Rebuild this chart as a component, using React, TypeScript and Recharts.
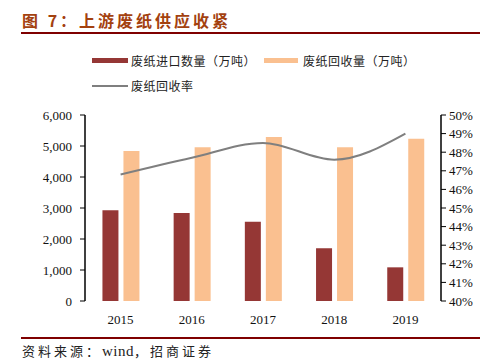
import React from "react";
import { ComposedChart, Bar, Line, XAxis, YAxis, Legend } from "recharts";

const years = ["2015", "2016", "2017", "2018", "2019"];
const importVol = [2926, 2839, 2559, 1700, 1086];
const recycleVol = [4839, 4957, 5290, 4957, 5236];
const recycleRate = [0.468, 0.477, 0.485, 0.476, 0.49];
const leftTicks = [0, 1000, 2000, 3000, 4000, 5000, 6000];
const rightTicks = [0.4, 0.41, 0.42, 0.43, 0.44, 0.45, 0.46, 0.47, 0.48, 0.49, 0.5];
const boundaryTicks = [0, 1, 2, 3, 4, 5];

const data = years.map((y, i) => ({
  year: y,
  imp: importVol[i],
  rec: recycleVol[i],
  rate: recycleRate[i],
}));

const SERIF = "'Liberation Serif', 'Times New Roman', serif";
const CJK = "'Noto Sans CJK SC', sans-serif";

const renderLegend = () => (
  <div style={{ position: "relative", width: 498, height: 50, fontFamily: CJK, fontSize: 12, color: "#222", letterSpacing: 0.5 }}>
    <div style={{ position: "absolute", left: 92, top: 6, width: 36, height: 5, background: "#953735" }} />
    <div style={{ position: "absolute", left: 131, top: 0, lineHeight: "17px" }}>废纸进口数量（万吨）</div>
    <div style={{ position: "absolute", left: 264, top: 6, width: 34, height: 5, background: "#FAC090" }} />
    <div style={{ position: "absolute", left: 303, top: 0, lineHeight: "17px" }}>废纸回收量（万吨）</div>
    <div style={{ position: "absolute", left: 92, top: 33, width: 36, height: 2, background: "#7F7F7F" }} />
    <div style={{ position: "absolute", left: 131, top: 25, lineHeight: "17px" }}>废纸回收率</div>
  </div>
);

export default function App() {
  return (
    <div style={{ position: "fixed", left: 0, top: 0, width: 498, height: 361, background: "#fff", overflow: "hidden" }}>
      <div style={{ position: "absolute", left: 22, top: 10, fontFamily: CJK, fontWeight: 700, fontSize: 16, color: "#A3410F", lineHeight: "20px", letterSpacing: 3, whiteSpace: "pre" }}>
        图 7：上游废纸供应收紧
      </div>
      <div style={{ position: "absolute", left: 21, top: 32, width: 459, height: 2, background: "#7F0000" }} />
      <div style={{ position: "absolute", left: 21, top: 337, width: 459, height: 2, background: "#7F0000" }} />
      <div style={{ position: "absolute", left: 22, top: 342, fontFamily: CJK, fontSize: 13, color: "#222", lineHeight: "17px", letterSpacing: 3, whiteSpace: "pre" }}>
        资料来源：<span style={{ fontFamily: SERIF, fontSize: 15, letterSpacing: 0.5 }}>wind</span>，招商证券
      </div>
      <ComposedChart
        width={498}
        height={361}
        data={data}
        margin={{ top: 65, right: 0, bottom: 30, left: 0 }}
        barCategoryGap="24.5%"
        barGap={5}
      >
        <Legend content={renderLegend} verticalAlign="top" wrapperStyle={{ top: 52, left: 0, height: 50 }} />
        <XAxis
          xAxisId="grid"
          type="number"
          domain={[0, 5]}
          ticks={boundaryTicks}
          height={0}
          tickFormatter={() => ""}
          tickSize={5}
          stroke="#000"
          tickLine={{ stroke: "#000" }}
          axisLine={{ stroke: "#000", strokeWidth: 1.5 }}
        />
        <XAxis
          dataKey="year"
          height={30}
          axisLine={false}
          tickLine={false}
          tickMargin={8}
          tick={{ fontFamily: SERIF, fontSize: 13, fill: "#111" }}
        />
        <YAxis
          yAxisId="left"
          width={85}
          domain={[0, 6000]}
          ticks={leftTicks}
          tickFormatter={(v: number) => v.toLocaleString("en-US")}
          tickSize={5}
          tickMargin={8}
          stroke="#000"
          axisLine={{ stroke: "#000", strokeWidth: 1.5 }}
          tick={{ fontFamily: SERIF, fontSize: 13, fill: "#111" }}
        />
        <YAxis
          yAxisId="right"
          orientation="right"
          width={57}
          domain={[0.4, 0.5]}
          ticks={rightTicks}
          tickFormatter={(v: number) => `${Math.round(v * 100)}%`}
          tickSize={5}
          tickMargin={3}
          stroke="#000"
          axisLine={{ stroke: "#000", strokeWidth: 1.5 }}
          tick={{ fontFamily: SERIF, fontSize: 13, fill: "#111" }}
          interval={0}
        />
        <Bar yAxisId="left" dataKey="imp" fill="#953735" isAnimationActive={false} />
        <Bar yAxisId="left" dataKey="rec" fill="#FAC090" isAnimationActive={false} />
        <Line
          yAxisId="right"
          dataKey="rate"
          type="monotone"
          stroke="#7F7F7F"
          strokeWidth={2}
          dot={false}
          isAnimationActive={false}
        />
      </ComposedChart>
    </div>
  );
}
